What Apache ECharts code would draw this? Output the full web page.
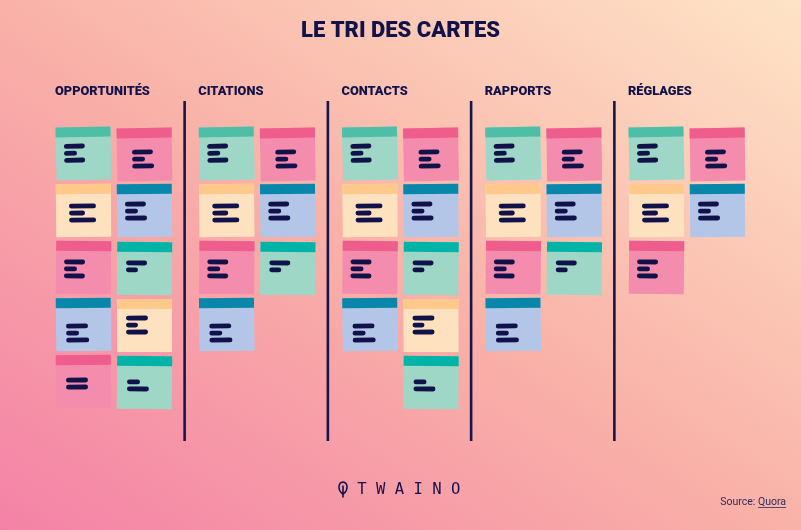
<!DOCTYPE html>
<html>
<head>
<meta charset="utf-8">
<script src="https://cdn.jsdelivr.net/npm/echarts@6/dist/echarts.min.js"></script>
<style>
html,body{margin:0;padding:0;background:#f9b4aa;}
#chart{width:801px;height:530px;}
</style>
</head>
<body>
<div id="chart"></div>
<script>
// ---- DATA ----
const TITLE = 'LE TRI DES CARTES';
const CATEGORIES = ['OPPORTUNITÉS', 'CITATIONS', 'CONTACTS', 'RAPPORTS', 'RÉGLAGES'];
// cards in each category (left column, right column), by colour
const LEFT_CARDS = [
  ['vert', 'jaune', 'rose', 'bleu', 'rose'],
  ['vert', 'jaune', 'rose', 'bleu'],
  ['vert', 'jaune', 'rose', 'bleu'],
  ['vert', 'jaune', 'rose', 'bleu'],
  ['vert', 'jaune', 'rose']
];
const RIGHT_CARDS = [
  ['rose', 'bleu', 'turquoise', 'jaune', 'turquoise'],
  ['rose', 'bleu', 'turquoise'],
  ['rose', 'bleu', 'turquoise', 'jaune', 'turquoise'],
  ['rose', 'bleu', 'turquoise'],
  ['rose', 'bleu']
];
const BRAND = 'TWAINO';
const SOURCE_LABEL = 'Source:';
const SOURCE_NAME = 'Quora';

// ---- STYLE ----
const NAVY = '#12124a';
const PALETTE = {
  vert:      { head: '#4ebfa6', body: '#9fd7c7' },
  rose:      { head: '#ee5d8b', body: '#f48cad' },
  jaune:     { head: '#fec98b', body: '#fee1bf' },
  bleu:      { head: '#0887ab', body: '#b4c6e7' },
  turquoise: { head: '#00b3a7', body: '#9fd7c7' }
};
const CARD_W = 55, CARD_H = 53, HEAD_H = 10, COL_GAP = 61;
// per slot (column, row): text-line layout and slight tilt
const SLOT_STYLE = [
  [
    { lx: 8,  ly: 19, lens: [21, 13, 21], tilt: 0.022, dy: 0 },
    { lx: 13, ly: 22, lens: [27, 16, 27], tilt: 0.008, dy: 0 },
    { lx: 8,  ly: 21, lens: [21, 13, 21], tilt: -0.01, dy: 0 },
    { lx: 10, ly: 28, lens: [22, 13, 23], tilt: 0.012, dy: 0 },
    { lx: 10, ly: 25, lens: [22, 22],     tilt: 0.01,  dy: 0 }
  ],
  [
    { lx: 15, ly: 24, lens: [21, 13, 22], tilt: 0.016, dy: 1 },
    { lx: 8,  ly: 20, lens: [21, 13, 22], tilt: 0.01,  dy: 0 },
    { lx: 9,  ly: 21, lens: [21, 12],     tilt: -0.01, dy: 1 },
    { lx: 9,  ly: 19, lens: [22, 12, 22], tilt: 0.004, dy: 1 },
    { lx: 10, ly: 26, lens: [13, 22],     tilt: -0.008, dy: 1 }
  ]
];
const COLOR_KEYS = Object.keys(PALETTE);

const cardData = [];
CATEGORIES.forEach((c, g) => {
  [LEFT_CARDS[g], RIGHT_CARDS[g]].forEach((col, s) => {
    col.forEach((color, r) => cardData.push([g, r, s, COLOR_KEYS.indexOf(color)]));
  });
});
const headerData = CATEGORIES.map((c, g) => [g, 0, c]);
const sepData = CATEGORIES.slice(0, -1).map((c, g) => [g, 0]);

const chart = echarts.init(document.getElementById('chart'), null, { renderer: 'canvas' });

const option = {
  animation: false,
  title: {
    text: TITLE, left: 'center', top: 20, padding: 0,
    textStyle: { fontFamily: 'Roboto', fontWeight: 900, fontSize: 22, color: NAVY }
  },
  graphic: [
    {
      type: 'rect', z: -10, silent: true,
      shape: { x: 0, y: 0, width: 801, height: 530 },
      style: {
        fill: {
          type: 'linear', global: true, x: 157, y: 634, x2: 644, y2: -104,
          colorStops: [
            { offset: 0, color: '#f482a7' },
            { offset: 0.5, color: '#f9b2a8' },
            { offset: 1, color: '#fee4c7' }
          ]
        }
      }
    },
    {
      type: 'bezierCurve', silent: true,
      shape: { x1: 343, y1: 494, cpx1: 337.5, cpy1: 491, cpx2: 337.8, cpy2: 482.6, x2: 343, y2: 482 },
      style: { stroke: NAVY, lineWidth: 1.6, fill: null }
    },
    {
      type: 'bezierCurve', silent: true,
      shape: { x1: 343, y1: 482, cpx1: 348.2, cpy1: 482.6, cpx2: 348.5, cpy2: 491, x2: 343, y2: 494 },
      style: { stroke: NAVY, lineWidth: 1.6, fill: null }
    },
    {
      type: 'line', silent: true,
      shape: { x1: 343, y1: 485.5, x2: 343, y2: 497.5 },
      style: { stroke: NAVY, lineWidth: 1.6 }
    },
    {
      type: 'text', silent: true,
      style: {
        text: BRAND.split('').join(' '), x: 408.8, y: 490,
        font: '15.6px "DejaVu Sans Mono"', fill: NAVY,
        align: 'center', verticalAlign: 'middle', textAlign: 'center', textVerticalAlign: 'middle'
      }
    },
    {
      type: 'text', silent: true,
      style: {
        text: SOURCE_LABEL + ' ' + SOURCE_NAME, x: 786, y: 502,
        font: '10.5px Roboto', fill: '#2c2c5c',
        align: 'right', verticalAlign: 'middle', textAlign: 'right', textVerticalAlign: 'middle'
      }
    },
    {
      type: 'line', silent: true,
      shape: { x1: 758, y1: 507.5, x2: 786, y2: 507.5 },
      style: { stroke: '#2c2c5c', lineWidth: 0.8 }
    }
  ],
  grid: { left: 56, right: 172, top: 127, bottom: 175, containLabel: false },
  xAxis: { type: 'value', min: 0, max: 4, show: false },
  yAxis: { type: 'value', min: 0, max: 4, inverse: true, show: false },
  series: [
    {
      type: 'custom', name: 'separateurs', clip: false, silent: true,
      data: sepData,
      renderItem: function (params, api) {
        const g = api.value(0);
        const a = api.coord([g, 0]);
        const b = api.coord([g + 1, 4]);
        const x = (a[0] + COL_GAP + CARD_W + b[0]) / 2 - 1;
        return {
          type: 'line',
          shape: { x1: x, y1: a[1] - 26, x2: x, y2: b[1] + 86 },
          style: { stroke: '#16164a', lineWidth: 2.6 }
        };
      }
    },
    {
      type: 'custom', name: 'titres', clip: false, silent: true,
      data: headerData,
      renderItem: function (params, api) {
        const p = api.coord([api.value(0), 0]);
        return {
          type: 'text',
          style: {
            text: CATEGORIES[params.dataIndex], x: p[0] - 1, y: p[1] - 35,
            font: '900 12.8px Roboto', fill: NAVY,
            align: 'left', verticalAlign: 'middle', textAlign: 'left', textVerticalAlign: 'middle'
          }
        };
      }
    },
    {
      type: 'custom', name: 'cartes', clip: false, silent: true,
      data: cardData,
      renderItem: function (params, api) {
        const g = api.value(0), r = api.value(1), s = api.value(2);
        const pal = PALETTE[COLOR_KEYS[api.value(3)]];
        const st = SLOT_STYLE[s][r];
        const p = api.coord([g, r]);
        const cx = p[0] + s * COL_GAP + CARD_W / 2;
        const cy = p[1] + st.dy + CARD_H / 2;
        const x0 = -CARD_W / 2, y0 = -CARD_H / 2;
        const children = [
          { type: 'rect', shape: { x: x0, y: y0, width: CARD_W, height: CARD_H }, style: { fill: pal.body } },
          { type: 'rect', shape: { x: x0, y: y0, width: CARD_W, height: HEAD_H }, style: { fill: pal.head } }
        ];
        st.lens.forEach((len, i) => {
          children.push({
            type: 'rect',
            shape: { x: x0 + st.lx, y: y0 + st.ly + i * 7 - 2.4, width: len, height: 4.8, r: 2.4 },
            style: { fill: NAVY }
          });
        });
        return { type: 'group', x: cx, y: cy, rotation: st.tilt, children: children };
      }
    }
  ]
};
chart.setOption(option);
</script>
</body>
</html>
